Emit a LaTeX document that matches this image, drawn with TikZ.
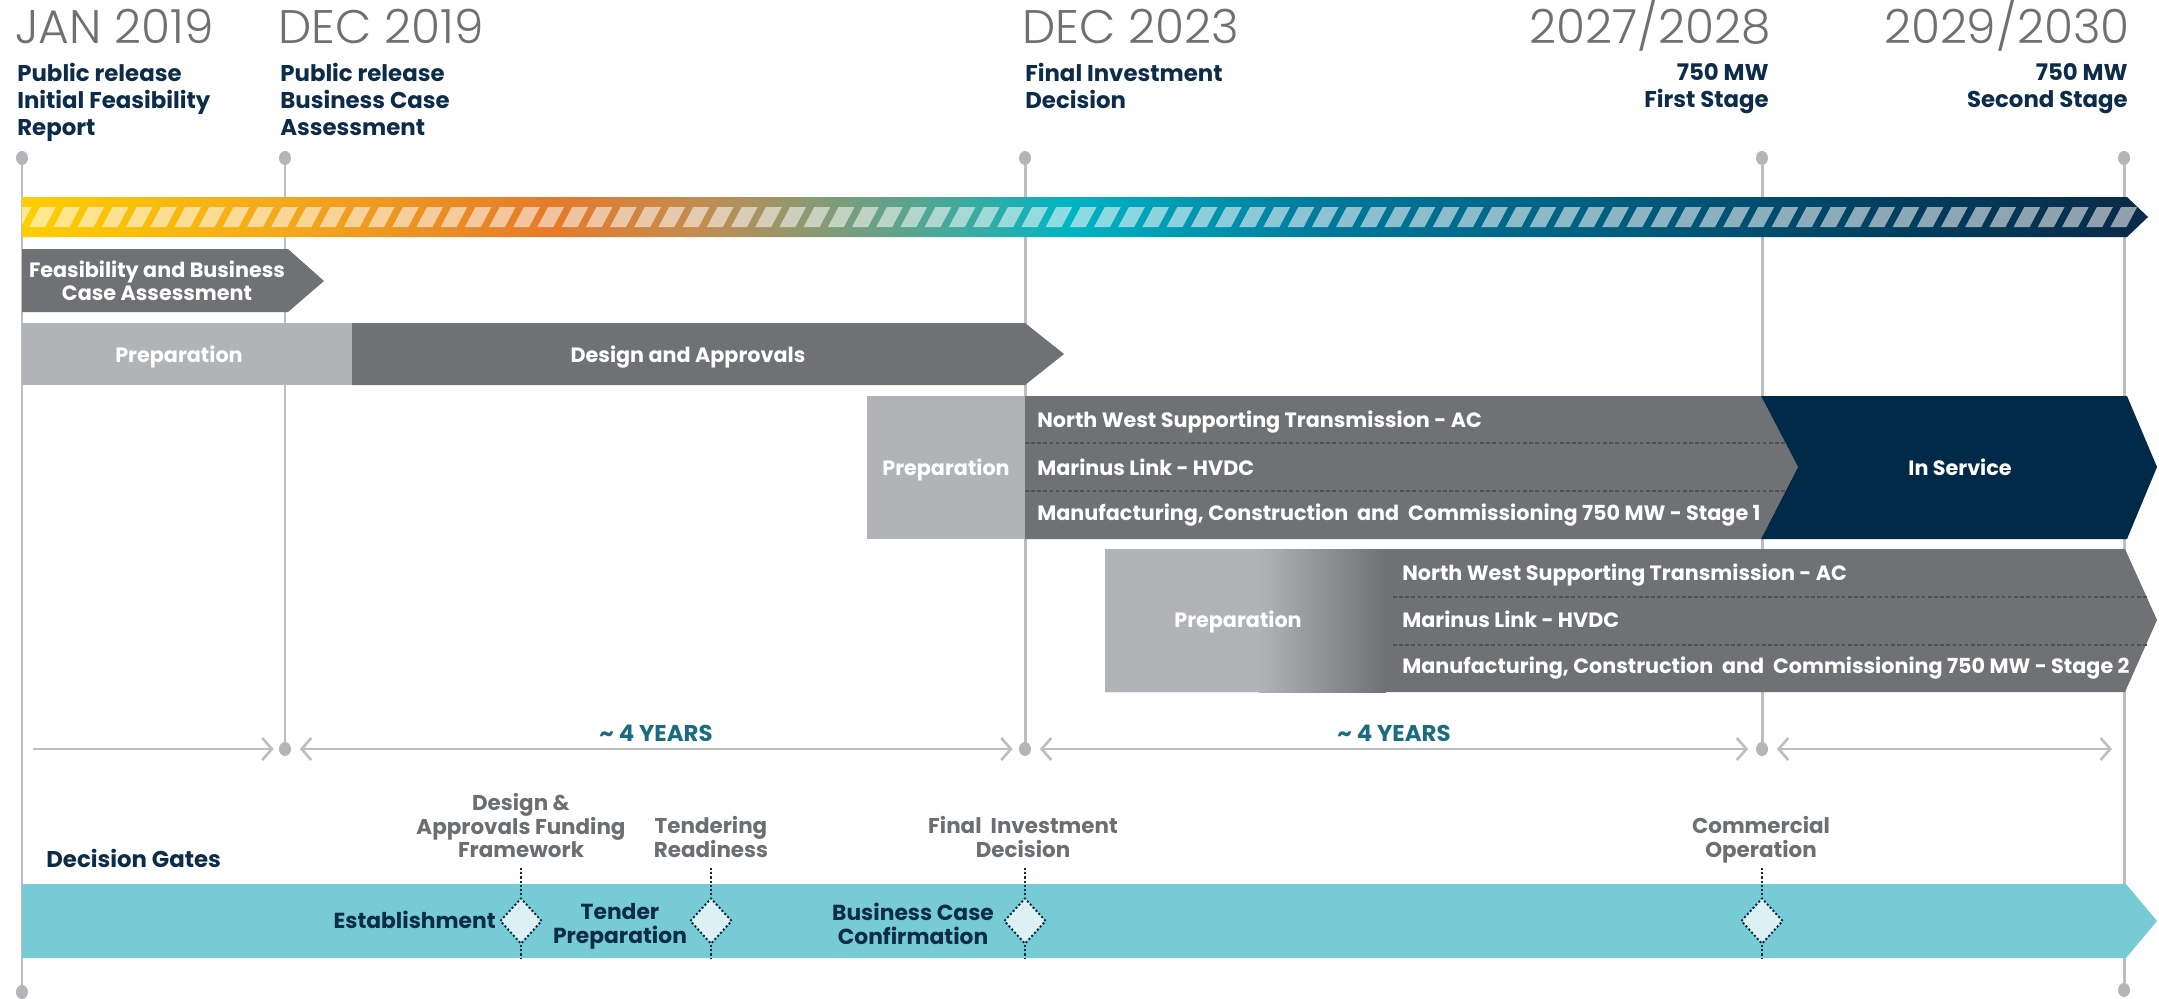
\documentclass[tikz,border=0pt]{standalone}
\usepackage{fontspec}
\setmainfont{Poppins}
\IfFontExistsTF{Poppins Light}{\newfontfamily\yearfont{Poppins Light}}{\newfontfamily\yearfont{Poppins}}
\usepackage{tikz}
\usetikzlibrary{shapes.geometric,arrows.meta}
\usepackage{color}

\definecolor{lineGrey}{HTML}{BCBEC0}
\definecolor{dotGrey}{HTML}{B3B5B8}
\definecolor{yearGrey}{HTML}{6F7073}
\definecolor{navyText}{HTML}{0D2C49}
\definecolor{barDark}{HTML}{707175}
\definecolor{barLight}{HTML}{B1B3B6}
\definecolor{navyBar}{HTML}{012A48}
\definecolor{bandTeal}{HTML}{77CBD5}
\definecolor{gateFill}{HTML}{DDF1F4}
\definecolor{spanTeal}{HTML}{1C6C7F}
\definecolor{gateGrey}{HTML}{6D6E71}
\definecolor{sepGrey}{HTML}{505155}
% colours along the striped time bar
\definecolor{sYel}{HTML}{FFCE00}
\definecolor{sGold}{HTML}{F3A81B}
\definecolor{sOrange}{HTML}{E57A2A}
\definecolor{sBrown}{HTML}{C48C50}
\definecolor{sGreen}{HTML}{3CABA0}
\definecolor{sTeal}{HTML}{00B4C3}
\definecolor{sBlue}{HTML}{00779A}
\definecolor{sDeep}{HTML}{005F80}
\definecolor{sDark}{HTML}{003E5E}
\definecolor{sNavy}{HTML}{0B2A47}
\pgfdeclarehorizontalshading{stripebar}{100bp}{color(0bp)=(sYel); color(25bp)=(sYel);
  color(31.2bp)=(sGold); color(37.5bp)=(sOrange); color(40.9bp)=(sBrown);
  color(47.2bp)=(sGreen); color(49.6bp)=(sTeal); color(55.8bp)=(sBlue);
  color(62.1bp)=(sDeep); color(69.2bp)=(sDark); color(75bp)=(sNavy); color(100bp)=(sNavy)}

\begin{document}
\begin{tikzpicture}[x=0.02cm, y=0.02cm]
	\tikzstyle{every node}+=[inner sep=0pt]
	\tikzstyle{gline}=[draw=lineGrey, line width=1.7pt]
	\tikzstyle{dot}=[ellipse, fill=dotGrey, minimum width=0.24cm, minimum height=0.28cm]
	\tikzstyle{yr}=[font=\yearfont\fontsize{26.8}{30}\selectfont, text=yearGrey]
	\tikzstyle{milestone}=[font=\bfseries\fontsize{13}{15.4}\selectfont, text=navyText]
	\tikzstyle{bartext}=[font=\bfseries\fontsize{11.8}{12.9}\selectfont, text=white]
	\tikzstyle{darkbar}=[fill=barDark]
	\tikzstyle{lightbar}=[fill=barLight]
	\tikzstyle{sep}=[draw=sepGrey, line width=0.6pt, dash pattern=on 2pt off 1.5pt]
	\tikzstyle{stripe}=[fill=white, fill opacity=0.55]
	\tikzstyle{span}=[draw=lineGrey, line width=1.5pt]
	\tikzstyle{spantext}=[font=\bfseries\fontsize{13}{15}\selectfont, text=spanTeal]
	\tikzstyle{gate}=[diamond, draw=navyText, fill=gateFill, line width=1.1pt, dash pattern=on 1.2pt off 1.2pt, minimum width=0.84cm, minimum height=0.92cm]
	\tikzstyle{gdot}=[draw=navyText, line width=1.1pt, dash pattern=on 1.2pt off 1.2pt]
	\tikzstyle{gatetop}=[font=\bfseries\fontsize{12.2}{13.4}\selectfont, text=gateGrey, align=center]
	\tikzstyle{gatein}=[font=\bfseries\fontsize{12.4}{13.7}\selectfont, text=navyText, align=center]
	\useasboundingbox (0,0) rectangle (2159,-998);

	% milestone lines
	\node [dot] (top1) at (22,-158) {};
	\node [dot] (top2) at (285,-158) {};
	\node [dot] (top3) at (1025,-158) {};
	\node [dot] (top4) at (1762,-158) {};
	\node [dot] (top5) at (2124,-158) {};
	\node [dot] (yd2) at (285,-749) {};
	\node [dot] (yd3) at (1025,-749) {};
	\node [dot] (yd4) at (1762,-749) {};
	\node [dot] (bot1) at (22,-992) {};
	\node [dot] (bot5) at (2124,-990) {};
	\draw [gline] (top1) -- (bot1);
	\draw [gline] (top2) -- (yd2);
	\draw [gline] (top3) -- (yd3);
	\draw [gline] (top4) -- (yd4);
	\draw [gline] (top5) -- (bot5);

	% years and milestones
	\node [yr, anchor=base west] (jan19) at (15,-43) {JAN 2019};
	\node [yr, anchor=base west] (dec19) at (278,-43) {DEC 2019};
	\node [yr, anchor=base west] (dec23) at (1022,-43) {DEC 2023};
	\node [yr, anchor=base east] (y2028) at (1771,-43) {2027/2028};
	\node [yr, anchor=base east] (y2030) at (2130,-43) {2029/2030};
	\node [milestone, anchor=north west, align=left] (relA) at (17,-63) {Public release\\Initial Feasibility\\Report};
	\node [milestone, anchor=north west, align=left] (relB) at (280,-63) {Public release\\Business Case\\Assessment};
	\node [milestone, anchor=north west, align=left] (fidTop) at (1025,-63) {Final Investment\\Decision};
	\node [milestone, anchor=north east, align=right] (stage1) at (1769,-63) {750 MW\\First Stage};
	\node [milestone, anchor=north east, align=right] (stage2) at (2128,-63) {750 MW\\Second Stage};

	% striped time bar
	\shade [shading=stripebar] (22,-197) -- (2127,-197) -- (2148,-217) -- (2127,-237) -- (22,-237) -- cycle;
	\begin{scope}
		\clip (22,-197) rectangle (2160,-237);
		\foreach \i in {0,...,87}
			\fill [stripe] ({5+24.2*\i},-227) -- ++(16,0) -- ++(10.7,20) -- ++(-16,0) -- cycle;
	\end{scope}

	% row 1 and 2
	\fill [darkbar] (22,-249) -- (288,-249) -- (324,-281) -- (288,-312) -- (22,-312) -- cycle;
	\node [bartext, align=center, anchor=north] (feas) at (157,-261) {Feasibility and Business\\Case Assessment};
	\fill [lightbar] (22,-323) rectangle (352,-385);
	\fill [darkbar] (352,-323) -- (1025,-323) -- (1064,-354) -- (1025,-385) -- (352,-385) -- cycle;
	\node [bartext, anchor=base] (prepA) at (179,-362) {Preparation};
	\node [bartext, anchor=base] (design) at (688,-362) {Design and Approvals};

	% row 3, first stage
	\fill [lightbar] (867,-396) rectangle (1025,-539);
	\fill [darkbar] (1025,-396) -- (1761,-396) -- (1798,-467) -- (1761,-539) -- (1025,-539) -- cycle;
	\fill [fill=navyBar] (1761,-396) -- (2127,-396) -- (2157,-467) -- (2127,-539) -- (1761,-539) -- (1798,-467) -- cycle;
	\draw [sep] (1025,-443) -- (1785,-443);
	\draw [sep] (1025,-491) -- (1786,-491);
	\node [bartext, anchor=base] (prepB) at (946,-475) {Preparation};
	\node [bartext, anchor=base west] (nwA) at (1037,-427) {North West Supporting Transmission - AC};
	\node [bartext, anchor=base west] (mlA) at (1037,-475) {Marinus Link - HVDC};
	\node [bartext, anchor=base west] (mccA) at (1037,-520) {Manufacturing, Construction\ \ and\ \ Commissioning 750 MW - Stage 1};
	\node [bartext, anchor=base] (inService) at (1960,-475) {In Service};

	% row 4, second stage
	\fill [darkbar] (1105,-549) -- (2125,-549) -- (2157,-620) -- (2125,-692) -- (1105,-692) -- cycle;
	\fill [lightbar] (1105,-549) rectangle (1260,-692);
	\shade [left color=barLight, right color=barDark] (1259,-549) rectangle (1386,-692);
	\draw [sep] (1393,-597) -- (2147,-597);
	\draw [sep] (1393,-645) -- (2147,-645);
	\node [bartext, anchor=base] (prepC) at (1238,-627) {Preparation};
	\node [bartext, anchor=base west] (nwB) at (1402,-580) {North West Supporting Transmission - AC};
	\node [bartext, anchor=base west] (mlB) at (1402,-627) {Marinus Link - HVDC};
	\node [bartext, anchor=base west] (mccB) at (1402,-673) {Manufacturing, Construction\ \ and\ \ Commissioning 750 MW - Stage 2};

	% spans
	\coordinate (spanStart) at (33,-749);
	\coordinate (spanEnd) at (2112,-749);
	\draw [span, -{Straight Barb[length=5.5pt,width=12.5pt]}, shorten >=0.1cm] (spanStart) -- (yd2);
	\draw [span, {Straight Barb[length=5.5pt,width=12.5pt]}-{Straight Barb[length=5.5pt,width=12.5pt]}, shorten <=0.17cm, shorten >=0.12cm] (yd2) -- (yd3);
	\draw [span, {Straight Barb[length=5.5pt,width=12.5pt]}-{Straight Barb[length=5.5pt,width=12.5pt]}, shorten <=0.17cm, shorten >=0.15cm] (yd3) -- (yd4);
	\draw [span, {Straight Barb[length=5.5pt,width=12.5pt]}-{Straight Barb[length=5.5pt,width=12.5pt]}, shorten <=0.17cm] (yd4) -- (spanEnd);
	\node [spantext, anchor=base] (fourA) at (656,-741) {\textasciitilde{} 4 YEARS};
	\node [spantext, anchor=base] (fourB) at (1394,-741) {\textasciitilde{} 4 YEARS};

	% decision gates
	\node [font=\bfseries\fontsize{13}{15}\selectfont, text=navyText, anchor=base west] (gates) at (46,-867) {Decision Gates};
	\fill [fill=bandTeal] (22,-884) -- (2126,-884) -- (2157,-921) -- (2126,-958) -- (22,-958) -- cycle;
	\coordinate (g1t) at (521,-868);
	\coordinate (g1b) at (521,-958);
	\coordinate (g2t) at (711,-868);
	\coordinate (g2b) at (711,-958);
	\coordinate (g3t) at (1025,-868);
	\coordinate (g3b) at (1025,-958);
	\coordinate (g4t) at (1762,-868);
	\coordinate (g4b) at (1762,-958);
	\node [gate] (g1) at (521,-921) {};
	\node [gate] (g2) at (711,-921) {};
	\node [gate] (g3) at (1025,-921) {};
	\node [gate] (g4) at (1762,-921) {};
	\draw [gdot] (g1t) -- (g1) (g1) -- (g1b);
	\draw [gdot] (g2t) -- (g2) (g2) -- (g2b);
	\draw [gdot] (g3t) -- (g3) (g3) -- (g3b);
	\draw [gdot] (g4t) -- (g4) (g4) -- (g4b);
	\node [gatetop, anchor=north] (dafw) at (521,-793) {Design \&\\Approvals Funding\\Framework};
	\node [gatetop, anchor=north] (tready) at (711,-816) {Tendering\\Readiness};
	\node [gatetop, anchor=north] (fid) at (1023,-816) {Final\ \ Investment\\Decision};
	\node [gatetop, anchor=north] (comop) at (1761,-816) {Commercial\\Operation};
	\node [gatein, anchor=base east] (estab) at (496,-928) {Establishment};
	\node [gatein, anchor=north] (tprep) at (620,-903) {Tender\\Preparation};
	\node [gatein, anchor=north] (bcc) at (913,-903) {Business Case\\Confirmation};
\end{tikzpicture}
\end{document}
